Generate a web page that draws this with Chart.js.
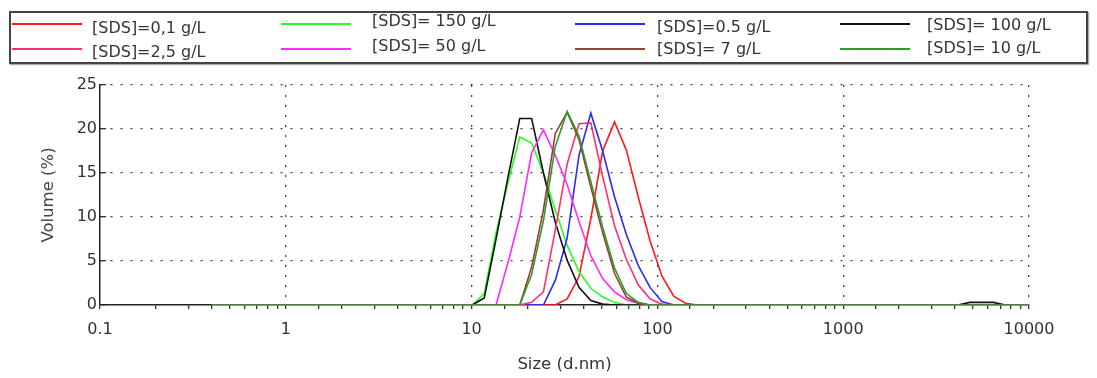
<!DOCTYPE html>
<html>
<head>
<meta charset="utf-8">
<script src="https://cdn.jsdelivr.net/npm/chart.js@4"></script>
<style>
  body { margin: 0; background: #fff; }
  #wrap { position: relative; width: 1097px; height: 378px; }
  #chart { position: absolute; left: 0; top: 0; }
  #legendBox { position: absolute; left: 9px; top: 11px; width: 1079px; height: 53px; box-sizing: border-box;
               border: 2px solid #444; box-shadow: 1px 1px 1px #aaa; }
  .swatch { position: absolute; width: 70px; height: 2px; }
  .ltext { position: absolute; font-family: "DejaVu Sans", sans-serif; font-size: 16px; line-height: 18px;
           color: #333; white-space: nowrap; }
</style>
</head>
<body>
<div id="wrap">
  <canvas id="chart" width="1097" height="378"></canvas>
  <div id="legendBox"></div>
</div>
<script>
// Zetasizer size classes (d.nm)
const sizeClasses = [
  0.4, 0.4632, 0.5365, 0.6213, 0.7195, 0.8332, 0.9649, 1.117, 1.294, 1.499,
  1.736, 2.010, 2.328, 2.696, 3.122, 3.615, 4.187, 4.849, 5.615, 6.503,
  7.531, 8.721, 10.10, 11.70, 13.54, 15.69, 18.17, 21.04, 24.36, 28.21,
  32.67, 37.84, 43.82, 50.75, 58.77, 68.06, 78.82, 91.28, 105.7, 122.4,
  141.8, 164.2, 190.1, 220.2, 255.0, 295.3, 342.0, 396.1, 458.7, 531.2,
  615.1, 712.4, 825.0, 955.4, 1106, 1281, 1484, 1718, 1990, 2305,
  2669, 3091, 3580, 4145, 4801, 5560, 6439, 7456, 8635, 10000
];

// Volume (%) per size class
const volSDS01 = [
  0, 0, 0, 0, 0, 0, 0, 0, 0, 0, 0, 0, 0, 0, 0, 0, 0, 0, 0, 0, 0, 0,
  0, 0, 0, 0, 0, 0, 0, 0, 0.7, 3.2, 9.8, 17.5, 20.8, 17.6, 12.3, 7.3, 3.3, 1, 0.2, 0,
  0, 0, 0, 0, 0, 0, 0, 0, 0, 0, 0, 0, 0, 0, 0, 0, 0, 0, 0, 0, 0, 0, 0, 0, 0, 0, 0, 0
];
const volSDS150 = [
  0, 0, 0, 0, 0, 0, 0, 0, 0, 0, 0, 0, 0, 0, 0, 0, 0, 0, 0, 0, 0, 0,
  0, 1.3, 8.2, 13.9, 19.1, 18.4, 15, 10.8, 6.8, 3.8, 1.9, 0.9, 0.3, 0, 0, 0, 0, 0, 0, 0,
  0, 0, 0, 0, 0, 0, 0, 0, 0, 0, 0, 0, 0, 0, 0, 0, 0, 0, 0, 0, 0, 0, 0, 0, 0, 0, 0, 0
];
const volSDS05 = [
  0, 0, 0, 0, 0, 0, 0, 0, 0, 0, 0, 0, 0, 0, 0, 0, 0, 0, 0, 0, 0, 0,
  0, 0, 0, 0, 0, 0, 0, 2.8, 7.6, 17, 21.8, 17.5, 12.3, 8, 4.5, 2, 0.4, 0, 0, 0,
  0, 0, 0, 0, 0, 0, 0, 0, 0, 0, 0, 0, 0, 0, 0, 0, 0, 0, 0, 0, 0, 0, 0, 0, 0, 0, 0, 0
];
const volSDS100 = [
  0, 0, 0, 0, 0, 0, 0, 0, 0, 0, 0, 0, 0, 0, 0, 0, 0, 0, 0, 0, 0, 0,
  0, 0.8, 7.5, 14.5, 21.2, 21.2, 15, 9.4, 5.1, 2, 0.5, 0.1, 0, 0, 0, 0, 0, 0, 0, 0,
  0, 0, 0, 0, 0, 0, 0, 0, 0, 0, 0, 0, 0, 0, 0, 0, 0, 0, 0, 0, 0, 0, 0.3, 0.3, 0.3, 0, 0, 0
];
const volSDS25 = [
  0, 0, 0, 0, 0, 0, 0, 0, 0, 0, 0, 0, 0, 0, 0, 0, 0, 0, 0, 0, 0, 0,
  0, 0, 0, 0, 0, 0.3, 1.5, 8.5, 16, 20.6, 20.7, 14.6, 9, 5.2, 2.3, 0.7, 0.1, 0, 0, 0,
  0, 0, 0, 0, 0, 0, 0, 0, 0, 0, 0, 0, 0, 0, 0, 0, 0, 0, 0, 0, 0, 0, 0, 0, 0, 0, 0, 0
];
const volSDS50 = [
  0, 0, 0, 0, 0, 0, 0, 0, 0, 0, 0, 0, 0, 0, 0, 0, 0, 0, 0, 0, 0, 0,
  0, 0, 0, 4.8, 10, 17.3, 19.9, 17, 13.7, 9.5, 5.6, 3, 1.5, 0.6, 0.2, 0, 0, 0, 0, 0,
  0, 0, 0, 0, 0, 0, 0, 0, 0, 0, 0, 0, 0, 0, 0, 0, 0, 0, 0, 0, 0, 0, 0, 0, 0, 0, 0, 0
];
const volSDS7 = [
  0, 0, 0, 0, 0, 0, 0, 0, 0, 0, 0, 0, 0, 0, 0, 0, 0, 0, 0, 0, 0, 0,
  0, 0, 0, 0, 0, 4.3, 10.8, 19.5, 21.9, 18.8, 13.4, 8.2, 3.6, 0.9, 0.2, 0, 0, 0, 0, 0,
  0, 0, 0, 0, 0, 0, 0, 0, 0, 0, 0, 0, 0, 0, 0, 0, 0, 0, 0, 0, 0, 0, 0, 0, 0, 0, 0, 0
];
const volSDS10 = [
  0, 0, 0, 0, 0, 0, 0, 0, 0, 0, 0, 0, 0, 0, 0, 0, 0, 0, 0, 0, 0, 0,
  0, 0, 0, 0, 0, 3.5, 9.6, 18, 22, 19.2, 14, 8.8, 4.2, 1.3, 0.3, 0, 0, 0, 0, 0,
  0, 0, 0, 0, 0, 0, 0, 0, 0, 0, 0, 0, 0, 0, 0, 0, 0, 0, 0, 0, 0, 0, 0, 0, 0, 0, 0, 0
];

const seriesLabels = ['[SDS]=0,1 g/L', '[SDS]= 150 g/L', '[SDS]=0.5 g/L', '[SDS]= 100 g/L',
                      '[SDS]=2,5 g/L', '[SDS]= 50 g/L', '[SDS]= 7 g/L', '[SDS]= 10 g/L'];
const seriesValues = [volSDS01, volSDS150, volSDS05, volSDS100, volSDS25, volSDS50, volSDS7, volSDS10];
const seriesColors = ['#ff1a1a', '#22ff22', '#2a2aff', '#111111', '#ff2f77', '#ff2aff', '#a33a32', '#2c9c2c'];

const xTickValues = [0.1, 1, 10, 100, 1000, 10000];
const xTickLabels = ['0.1', '1', '10', '100', '1000', '10000'];
const yTickLabels = [0, 5, 10, 15, 20, 25];

// legend drawn as html, 4 columns x 2 rows
const legendCols = [{line: 12, text: 92}, {line: 281, text: 372}, {line: 575, text: 657}, {line: 840, text: 927}];
const legendLineY = [24, 49];
const legendTextY = [[28, 52], [21, 46], [27, 49], [25, 48]];
const wrap = document.getElementById('wrap');
seriesLabels.forEach((label, i) => {
  const col = i % 4, row = Math.floor(i / 4);
  const sw = document.createElement('div');
  sw.className = 'swatch';
  sw.style.left = legendCols[col].line + 'px';
  sw.style.top = (legendLineY[row] - 1) + 'px';
  sw.style.background = seriesColors[i];
  wrap.appendChild(sw);
  const tx = document.createElement('div');
  tx.className = 'ltext';
  tx.textContent = label;
  tx.style.left = legendCols[col].text + 'px';
  tx.style.top = (legendTextY[col][row] - 9) + 'px';
  wrap.appendChild(tx);
});

const decadeIndex = v => xTickValues.findIndex(t => Math.abs(v - t) / t < 1e-6);
const axisFont = {family: 'DejaVu Sans', size: 16};
const titleFont = {family: 'DejaVu Sans', size: 16.5};

new Chart(document.getElementById('chart'), {
  type: 'line',
  data: {
    // reversed so the last legend entry is drawn on top
    datasets: seriesValues.map((vals, i) => ({
      label: seriesLabels[i],
      data: sizeClasses.map((s, j) => ({x: s, y: vals[j]})),
      borderColor: seriesColors[i],
      borderWidth: 1.6,
      pointRadius: 0,
      tension: 0,
      fill: false
    })).reverse()
  },
  options: {
    responsive: false,
    animation: false,
    devicePixelRatio: 1,
    layout: {padding: {top: 85, right: 68, bottom: 0, left: 0}},
    plugins: {legend: {display: false}, tooltip: {enabled: false}},
    scales: {
      x: {
        type: 'logarithmic',
        min: 0.1,
        max: 10000,
        afterFit: s => { s.height = 73; },
        border: {color: '#222', width: 1.5, dash: [2, 8]},
        grid: {
          color: c => (c.tick && decadeIndex(c.tick.value) > 0) ? '#444' : 'transparent',
          lineWidth: 1.3,
          tickLength: 4,
          tickColor: '#333'
        },
        ticks: {
          autoSkip: false, maxRotation: 0, minRotation: 0, padding: 11,
          color: '#333', font: axisFont,
          callback: v => { const k = decadeIndex(v); return k >= 0 ? xTickLabels[k] : ''; }
        },
        title: {display: true, text: 'Size (d.nm)', color: '#333', font: titleFont, padding: {top: 0, bottom: 3}}
      },
      y: {
        min: 0,
        max: 25,
        afterFit: s => { s.width = 100; },
        border: {color: '#222', width: 1.5, dash: [2, 8]},
        grid: {
          color: c => (c.tick && c.tick.value > 0 && yTickLabels.includes(c.tick.value)) ? '#444' : 'transparent',
          lineWidth: 1.3,
          tickLength: -6,
          tickColor: '#333'
        },
        ticks: {
          stepSize: 2.5, padding: 9, color: '#333', font: axisFont,
          callback: v => yTickLabels.includes(v) ? String(v) : ''
        },
        title: {display: true, text: 'Volume (%)', color: '#444', font: titleFont, padding: {top: 39, bottom: 0}}
      }
    }
  }
});
</script>
</body>
</html>
